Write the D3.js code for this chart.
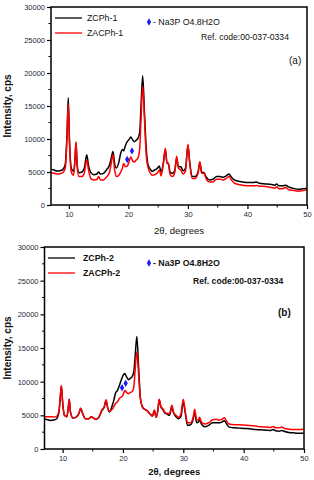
<!DOCTYPE html>
<html><head><meta charset="utf-8">
<script src="https://cdn.jsdelivr.net/npm/d3@7"></script>
<style>html,body{margin:0;padding:0;background:#fff;}svg{display:block;font-family:"Liberation Sans",Arial,sans-serif;}</style>
</head><body>
<svg id="c" width="314" height="480"></svg>
<script>
// ---------- DATA ----------
const xTicks = [10, 20, 30, 40, 50];
const yTicks = [0, 5000, 10000, 15000, 20000, 25000, 30000];
const seriesNamesA = ["ZCPh-1", "ZACPh-1"];
const seriesNamesB = ["ZCPh-2", "ZACPh-2"];
const refPhase = "- Na3P O4.8H2O";
const refCode = "Ref. code:00-037-0334";

const thetaA = [7.0,7.5,8.0,8.5,9.0,9.4,9.7,9.9,10.1,10.4,10.8,11.0,11.2,11.4,11.7,12.2,12.6,13.0,13.3,13.7,14.2,14.7,15.0,15.3,15.8,16.3,16.8,17.1,17.4,17.7,18.0,18.4,18.7,19.0,19.2,19.5,19.8,20.1,20.4,20.7,21.0,21.3,21.6,21.9,22.1,22.4,22.7,23.0,23.3,23.7,24.0,24.4,24.8,25.2,25.5,25.9,26.2,26.5,26.7,27.0,27.4,27.8,28.1,28.4,28.8,29.2,29.6,30.0,30.3,30.7,31.2,31.7,32.0,32.3,32.7,33.1,33.6,34.2,34.8,35.4,35.9,36.4,36.9,37.3,37.8,38.5,39.2,40.0,41.0,41.5,42.0,43.0,44.0,44.6,44.9,45.3,46.0,46.4,47.0,47.8,48.5,49.2,50.0];
const zcph1 = [5400,5300,5150,5200,5400,6200,11000,16200,10000,5600,5100,6500,9400,6000,4900,5000,5600,7600,6000,4900,4600,4700,5000,4700,4800,5300,6000,7000,8100,6200,5600,6500,7800,8400,8200,9000,9600,9900,10300,9900,9600,9800,10100,11000,14500,19600,14000,8500,6100,5400,5100,5300,5500,5900,5000,6500,8400,6300,6300,5000,4800,5300,7100,5800,5800,5200,5600,9000,6500,4300,4300,5000,6400,5000,4900,4200,3800,3900,4300,4300,4200,4400,4700,4200,3800,3600,3500,3400,3400,3500,3300,3200,3100,3000,3200,2900,2900,3000,2700,2500,2400,2450,2550];
const zacph1 = [4900,4800,4700,4750,4900,5600,10500,15300,9500,5000,4500,6500,9600,5800,4300,4300,4900,6800,5300,4000,3800,3850,4300,3800,3800,4200,4900,6200,7600,5200,4300,4500,5000,5600,6300,5800,5900,6500,7300,6700,6500,6800,7100,8500,12500,18000,13000,7500,5700,4800,4500,4600,4800,5300,4400,6500,8600,6300,6400,4600,4300,5000,7400,5600,5300,4700,5200,9200,6300,4000,4000,4800,6600,4800,4800,3900,3500,3500,3900,3900,3800,4000,4300,3800,3300,3100,3000,2900,2900,2950,2850,2800,2650,2550,2750,2450,2500,2650,2300,2200,2100,2150,2300];
const markA = [[19.8, 6900], [20.6, 8200]];

const thetaB = [7.0,7.5,8.0,8.5,9.0,9.4,9.6,9.8,10.0,10.3,10.7,10.9,11.1,11.3,11.7,12.2,12.7,13.0,13.3,13.8,14.3,14.8,15.1,15.5,16.0,16.5,16.9,17.2,17.5,17.8,18.2,18.5,18.8,19.1,19.4,19.7,20.0,20.3,20.6,20.9,21.2,21.5,21.8,22.0,22.3,22.6,22.9,23.2,23.6,24.0,24.5,24.9,25.2,25.5,25.8,26.0,26.3,26.6,26.9,27.3,27.7,28.1,28.4,28.8,29.2,29.6,30.0,30.3,30.7,31.2,31.6,31.9,32.2,32.5,32.7,33.0,33.6,34.2,34.8,35.4,36.0,36.4,36.8,37.2,37.6,38.5,39.3,40.0,41.0,42.0,42.8,43.8,44.5,44.9,45.3,45.9,46.3,46.8,47.5,48.2,49.0,50.0];
const zcph2 = [4450,4350,4250,4300,4500,5500,7500,9400,7000,5000,4800,5800,7400,5500,4600,4700,5300,6000,5300,4500,4500,4800,4600,4400,4700,5700,6200,7200,6000,5500,6400,7300,8400,8700,9400,10200,10900,11200,10700,10300,10500,10700,11500,13500,16700,12000,7500,6300,5900,5700,5200,4900,5700,4700,5800,7300,6200,5900,5400,5200,5000,6200,5300,4800,4500,4800,7000,5500,3500,3600,4300,5400,3900,4000,4400,3700,3300,3500,3900,3900,3900,4000,4200,3700,3250,3150,3100,3050,3000,2900,2850,2800,2750,2900,2700,2650,2750,2600,2450,2400,2350,2350];
const zacph2 = [4800,4800,4800,4750,4850,5700,7600,9400,7000,5000,4800,5800,7400,5500,4600,4700,5300,6100,5300,4500,4500,4800,4600,4400,4700,5800,6300,7300,6000,5600,5900,6300,6800,7000,7500,7700,8000,8700,8400,8200,8400,8500,9200,11500,14400,11000,7400,6300,5900,5700,5200,4900,5800,4700,5900,7400,6300,6000,5500,5300,5200,6500,5400,5000,4700,5200,7400,5700,3900,3900,4600,5900,4300,4300,4700,4000,3700,3900,4300,4400,4300,4400,4650,4100,3700,3600,3600,3550,3500,3400,3300,3250,3200,3350,3150,3150,3250,3050,2950,2900,2900,2950];
const markB = [[19.85, 9100], [20.45, 9750]];

// ---------- DRAW ----------
const svg = d3.select("#c");

function panel(o) {
  const g = svg.append("g");
  const x = d3.scaleLinear().domain([7, 50]).range([o.left, o.right]);
  const y = d3.scaleLinear().domain([0, 30000]).range([o.bottom, o.top]);
  const tickCol = "#2a2a3a";

  // minor ticks
  const xMinor = d3.range(15, 50, 10);
  const yMinor = d3.range(2500, 30000, 5000);
  g.append("g").selectAll("line").data(xMinor).join("line")
    .attr("x1", d => x(d)).attr("x2", d => x(d))
    .attr("y1", o.bottom).attr("y2", o.bottom + 2.5)
    .attr("stroke", "#000").attr("stroke-width", 1);
  g.append("g").selectAll("line").data(yMinor).join("line")
    .attr("y1", d => y(d)).attr("y2", d => y(d))
    .attr("x1", o.left).attr("x2", o.left - 2.5)
    .attr("stroke", "#000").attr("stroke-width", 1);

  const xAxis = g.append("g").attr("transform", `translate(0,${o.bottom})`)
    .call(d3.axisBottom(x).tickValues(xTicks).tickSize(4).tickPadding(3).tickFormat(d3.format("d")));
  const yAxis = g.append("g").attr("transform", `translate(${o.left},0)`)
    .call(d3.axisLeft(y).tickValues(yTicks).tickSize(4).tickPadding(2).tickFormat(d3.format("d")));
  [xAxis, yAxis].forEach(a => {
    a.select(".domain").remove();
    a.selectAll(".tick line").attr("stroke", "#000").attr("stroke-width", 1.2);
    a.selectAll(".tick text").attr("fill", tickCol).style("font-size", "7.5px")
      .style("font-family", '"Liberation Sans",Arial,sans-serif');
  });

  // curves
  const line = d3.line().x(d => x(d[0])).y(d => y(d[1])).curve(d3.curveMonotoneX);
  const clipId = "clip" + o.id;
  svg.append("clipPath").attr("id", clipId).append("rect")
    .attr("x", o.left).attr("y", o.top).attr("width", o.right - o.left).attr("height", o.bottom - o.top);
  const cg = g.append("g").attr("clip-path", `url(#${clipId})`);
  cg.append("path").datum(o.theta.map((t, i) => [t, o.s1[i]]))
    .attr("d", line).attr("fill", "none").attr("stroke", "#000").attr("stroke-width", 1.5);
  cg.append("path").datum(o.theta.map((t, i) => [t, o.s2[i]]))
    .attr("d", line).attr("fill", "none").attr("stroke", "#ff0000").attr("stroke-width", 1.5);

  // reference markers
  const diamond = d3.symbol().type(d3.symbolDiamond).size(16);
  g.selectAll(".mk").data(o.marks).join("path")
    .attr("d", diamond).attr("fill", "#1a1aff")
    .attr("transform", d => `translate(${x(d[0])},${y(d[1])})`);

  // frame
  g.append("rect").attr("x", o.left).attr("y", o.top)
    .attr("width", o.right - o.left).attr("height", o.bottom - o.top)
    .attr("fill", "none").attr("stroke", "#000").attr("stroke-width", 1.5);

  // legend
  const fw = o.bold ? "bold" : "normal";
  [[o.names[0], "#000", o.legY1], [o.names[1], "#ff0000", o.legY2]].forEach(([n, c, ly]) => {
    g.append("line").attr("x1", o.legX1).attr("x2", o.legX2).attr("y1", ly).attr("y2", ly)
      .attr("stroke", c).attr("stroke-width", 1.3);
    g.append("text").attr("x", o.legTx).attr("y", ly + 3).text(n)
      .style("font-size", "8.8px").attr("fill", "#111").style("font-weight", fw);
  });
  g.append("path").attr("d", diamond).attr("fill", "#1a1aff")
    .attr("transform", `translate(149,${o.refY})`);
  g.append("text").attr("x", 153).attr("y", o.refY + 3).text(refPhase)
    .style("font-size", "8.8px").attr("fill", "#111").style("font-weight", fw);
  g.append("text").attr("x", o.codeX).attr("y", o.codeY + 3).text(refCode)
    .style("font-size", "8.6px").attr("fill", "#111").style("font-weight", fw);
  g.append("text").attr("x", o.labX).attr("y", o.labY + 3.5).text(o.label)
    .style("font-size", "10px").attr("fill", "#111").style("font-weight", fw);

  // axis titles
  g.append("text").attr("x", (o.left + o.right) / 2).attr("y", o.xtY + 3)
    .attr("text-anchor", "middle").text("2θ, degrees")
    .style("font-size", "9.5px").attr("fill", "#111").style("font-weight", fw);
  g.append("text").attr("transform", `translate(${o.ytX},${(o.top + o.bottom) / 2}) rotate(-90)`)
    .attr("text-anchor", "middle").text("Intensity, cps")
    .style("font-size", "10px").attr("fill", "#111").style("font-weight", "bold");
}

panel({id: "a", left: 51, right: 307, top: 7, bottom: 205,
  theta: thetaA, s1: zcph1, s2: zacph1, marks: markA, names: seriesNamesA,
  legX1: 55, legX2: 82, legTx: 87, legY1: 18, legY2: 33, refY: 22,
  codeX: 201, codeY: 37, labX: 289, labY: 60, label: "(a)",
  xtY: 231, ytX: 11, bold: false});

panel({id: "b", left: 44.5, right: 304, top: 247, bottom: 449,
  theta: thetaB, s1: zcph2, s2: zacph2, marks: markB, names: seriesNamesB,
  legX1: 48, legX2: 75, legTx: 83, legY1: 258, legY2: 273, refY: 263,
  codeX: 193, codeY: 281, labX: 278, labY: 312, label: "(b)",
  xtY: 472, ytX: 11, bold: true});
</script>
</body></html>
